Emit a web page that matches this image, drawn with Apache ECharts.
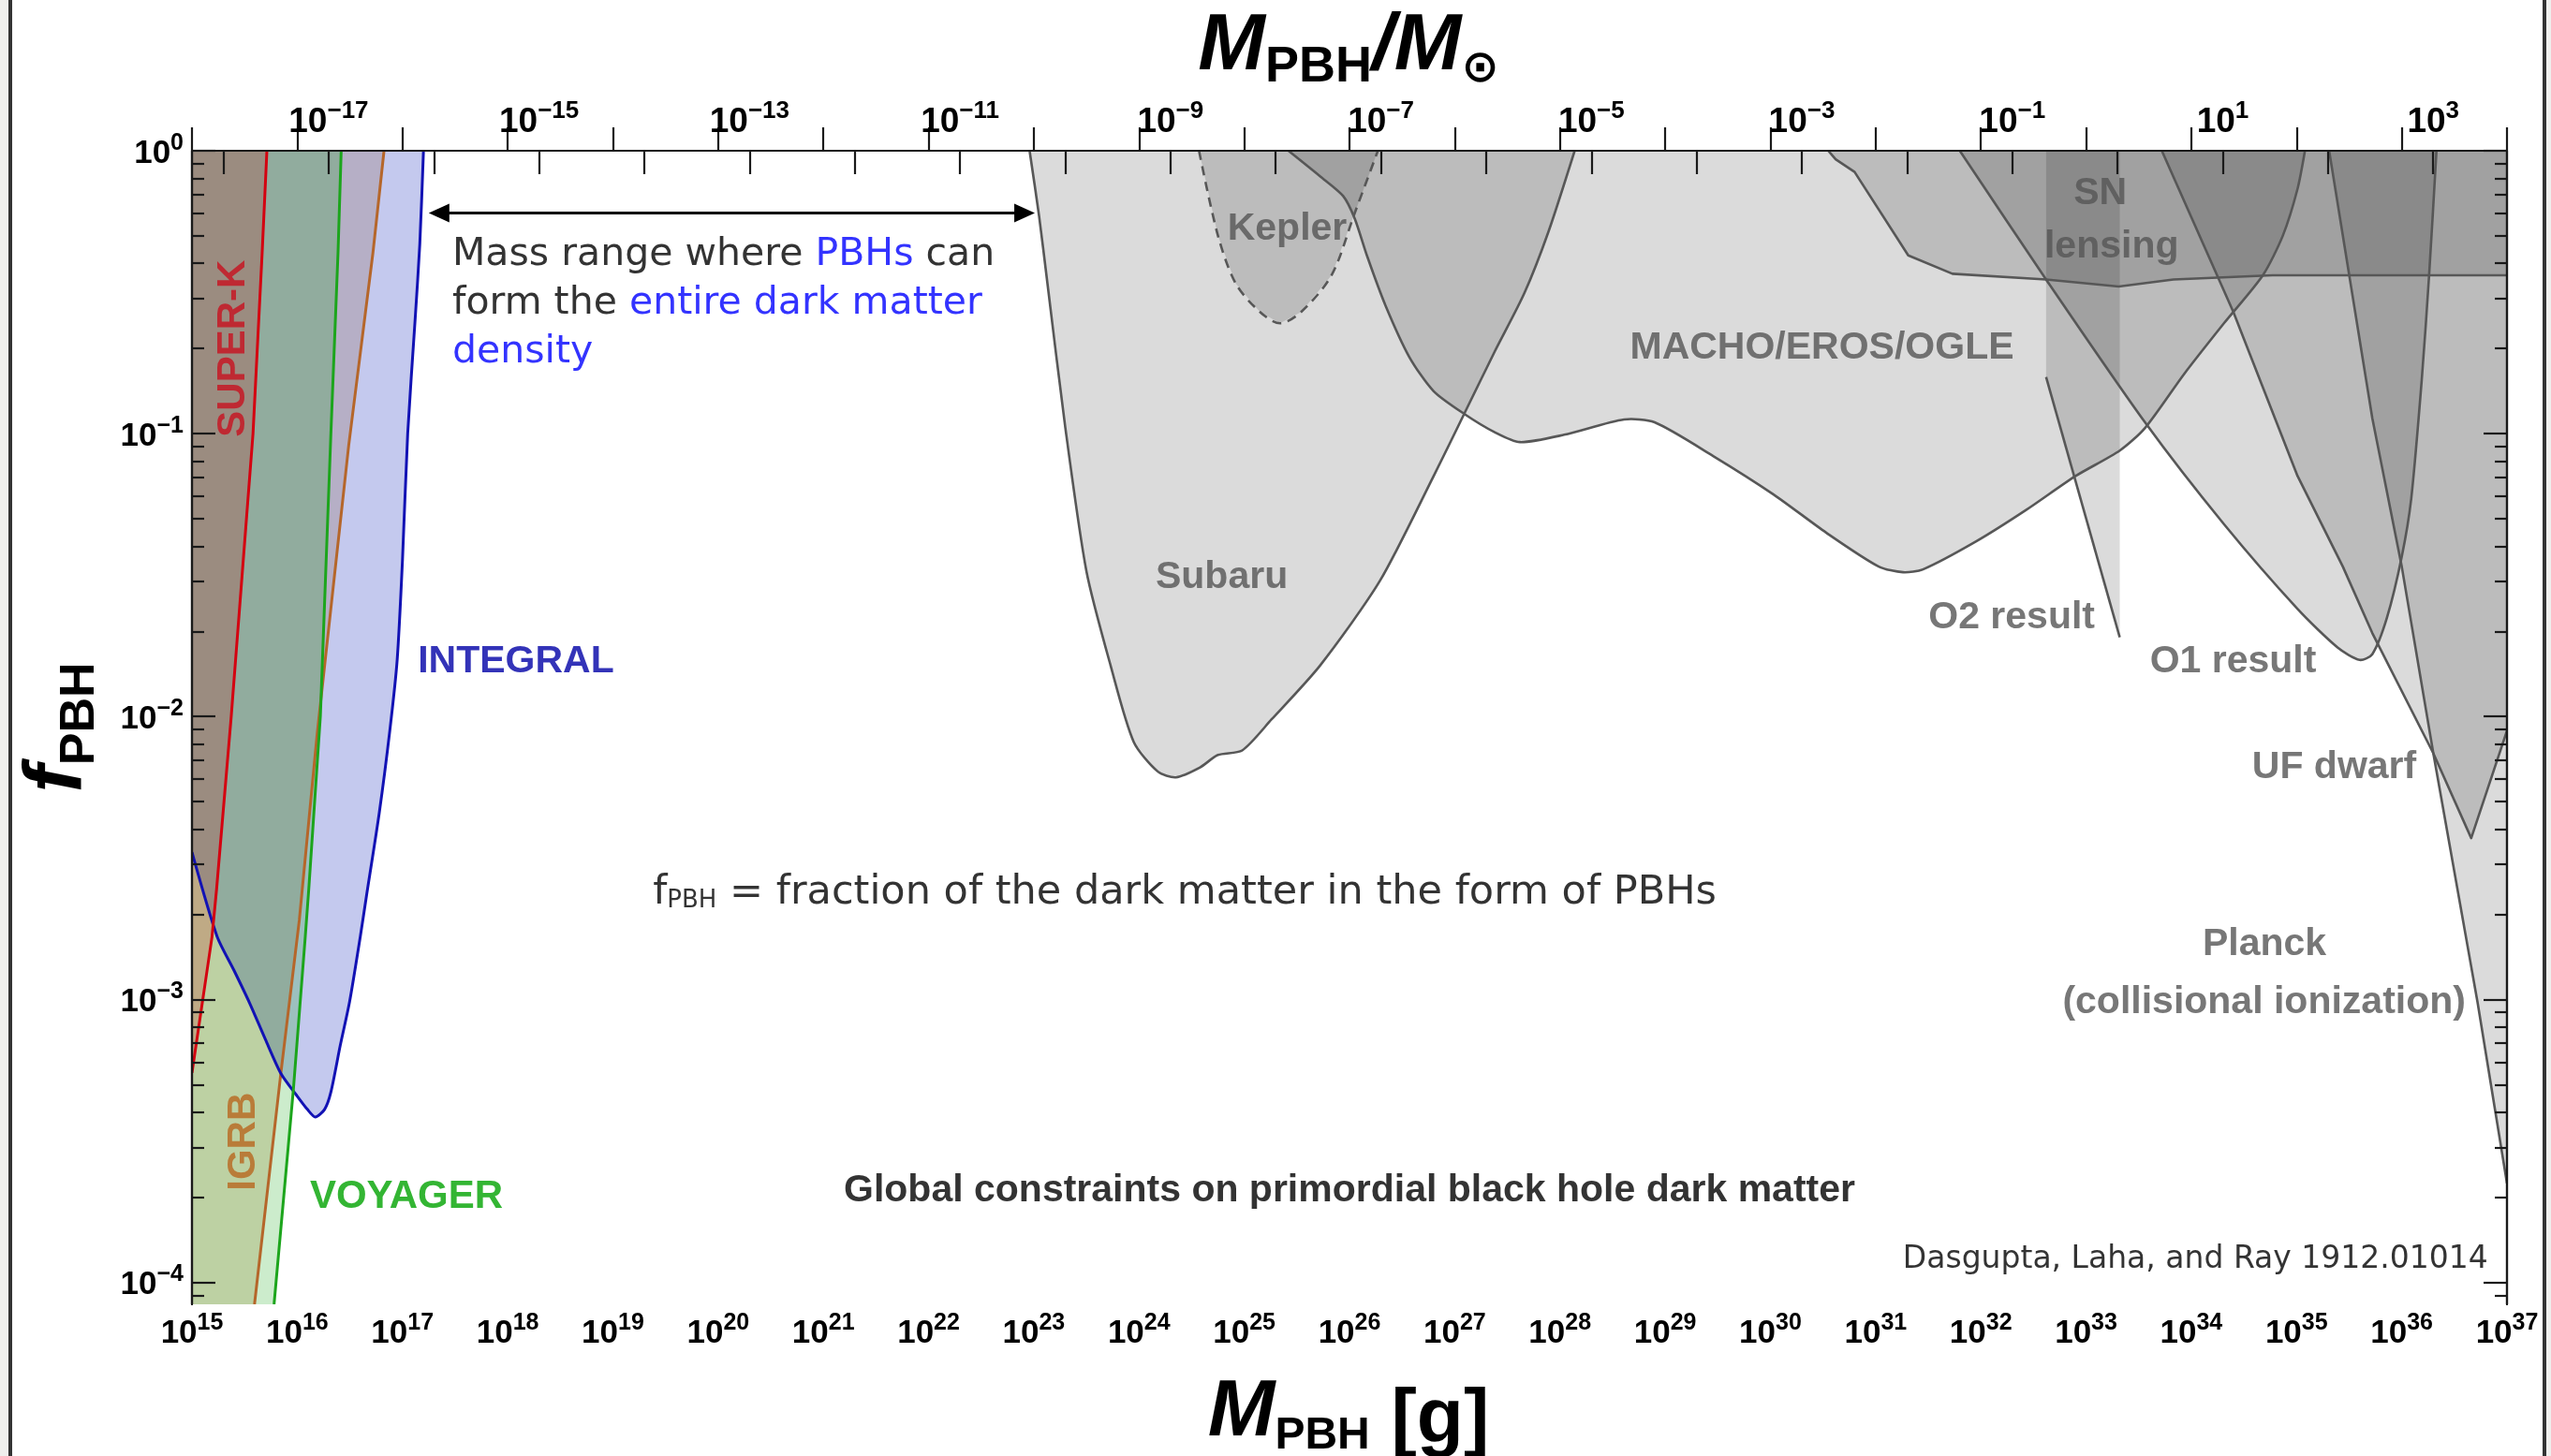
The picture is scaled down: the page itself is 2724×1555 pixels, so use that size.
<!DOCTYPE html>
<html>
<head>
<meta charset="utf-8">
<script src="https://cdn.jsdelivr.net/npm/echarts@6/dist/echarts.min.js"></script>
<style>
  html, body { margin: 0; padding: 0; background: #ffffff; }
  #chart { width: 2724px; height: 1555px; }
</style>
</head>
<body>
<div id="chart"></div>
<script>
// Axes work in decades: x = log10(M_PBH / g), y = log10(f_PBH).
const LOG_M_SUN = Math.log10(1.989e33);
const M_MIN = 15, M_MAX = 37;
const F_MIN = -4.078, F_MAX = 0;

// Tick labels
const massExponents = [15, 16, 17, 18, 19, 20, 21, 22, 23, 24, 25, 26, 27, 28, 29, 30, 31, 32, 33, 34, 35, 36, 37];
const solarTickExponents = [-18, -17, -16, -15, -14, -13, -12, -11, -10, -9, -8, -7, -6, -5, -4, -3, -2, -1, 0, 1, 2, 3];
const solarLabelExponents = [-17, -15, -13, -11, -9, -7, -5, -3, -1, 1, 3];
const fractionExponents = [-4, -3, -2, -1, 0];

// Constraint boundaries: [log10 M/g, log10 f_max]
const superK = [[15.0, -3.26], [15.19, -2.78], [15.234, -2.61], [15.373, -2.0], [15.58, -1.0], [15.667, -0.36], [15.712, 0]];
const igrb = [[15.594, -4.078], [15.845, -3.26], [16.02, -2.72], [16.19, -2.06], [16.49, -1.04], [16.72, -0.36], [16.825, 0]];
const voyager = [[15.78, -4.078], [15.964, -3.317], [16.077, -2.777], [16.11, -2.61], [16.22, -2.0], [16.32, -1.0], [16.388, -0.36], [16.418, 0]];
const integral = [[15.0, -2.48], [15.238, -2.777], [15.40, -2.898], [15.549, -3.014], [15.697, -3.141], [15.845, -3.262],
  [15.994, -3.339], [16.097, -3.389], [16.172, -3.416], [16.26, -3.389], [16.32, -3.328], [16.409, -3.163], [16.498, -3.008],
  [16.60, -2.777], [16.66, -2.63], [16.78, -2.34], [16.88, -2.05], [16.95, -1.80], [17.0, -1.45], [17.05, -1.0], [17.12, -0.6],
  [17.165, -0.33], [17.20, 0]];

const subaru = [[22.96, 0], [23.05, -0.23], [23.13, -0.47], [23.30, -0.98], [23.50, -1.486], [23.73, -1.82], [23.95, -2.09],
  [24.18, -2.195], [24.35, -2.215], [24.58, -2.18], [24.75, -2.136], [24.98, -2.12], [25.26, -2.01], [25.72, -1.82],
  [26.29, -1.52], [26.80, -1.15], [27.09, -0.93], [27.38, -0.71], [27.66, -0.505], [27.89, -0.287], [28.14, 0]];
const kepler = [[24.57, 0], [24.75, -0.30], [24.92, -0.47], [25.15, -0.57], [25.34, -0.61], [25.54, -0.57], [25.83, -0.44], [26.05, -0.22], [26.27, 0]];
const machoErosOgle = [[25.42, 0], [25.72, -0.09], [25.94, -0.16], [26.05, -0.24], [26.17, -0.375], [26.34, -0.545], [26.57, -0.73],
  [26.80, -0.85], [27.09, -0.93], [27.38, -0.995], [27.62, -1.03], [28.04, -1.004], [28.61, -0.95], [28.90, -0.96], [29.46, -1.08],
  [30.03, -1.215], [30.53, -1.35], [31.03, -1.47], [31.26, -1.49], [31.45, -1.48], [31.96, -1.38], [32.43, -1.27], [32.90, -1.15],
  [33.32, -1.06], [33.56, -0.98], [33.93, -0.79], [34.31, -0.61], [34.68, -0.44], [34.87, -0.30], [35.01, -0.134], [35.08, 0]];
const snLensing = [[30.55, 0], [30.62, -0.03], [30.80, -0.075], [31.31, -0.37], [31.73, -0.435], [32.62, -0.455], [33.31, -0.48],
  [33.83, -0.455], [34.77, -0.44], [37.0, -0.44]];
const ligoO2 = [[32.62, -0.80], [33.32, -1.72]];
const ligoO2Band = [32.62, 33.32];
const ligoO1 = [[31.80, 0], [32.62, -0.455], [33.56, -0.96], [34.31, -1.32], [35.01, -1.62], [35.39, -1.756], [35.60, -1.80],
  [35.72, -1.78], [35.86, -1.65], [36.00, -1.435], [36.09, -1.23], [36.19, -0.81], [36.26, -0.44], [36.33, 0]];
const ufDwarf = [[33.72, 0], [34.40, -0.57], [35.01, -1.15], [35.44, -1.47], [35.72, -1.705], [36.30, -2.13], [36.66, -2.43], [37.0, -2.05]];
const planck = [[35.31, 0], [35.72, -0.945], [36.0, -1.47], [36.30, -2.13], [36.72, -3.01], [37.0, -3.65]];

// Mass window where PBHs may make up all of the dark matter
const openWindow = [17.25, 23.01];
const openWindowLevel = -0.22;

// ---------- styling ----------
const GRAY_FILL = 'rgba(0,0,0,0.14)';
const GRAY_LINE = '#575757';
const BOLD = "'Liberation Sans', Arial, Helvetica, sans-serif";
const HAND = "'DejaVu Sans', sans-serif";

// Fill order matters for the tinted overlaps on the left.
const regions = [
  { boundary: igrb, closure: [[15, 0], [15, F_MIN]], fill: 'rgba(165,90,0,0.2)', stroke: '#b5662a', width: 3 },
  { boundary: integral, closure: [[15, 0]], fill: 'rgba(0,20,180,0.23)', stroke: '#1212b4', width: 3, smooth: 0.25 },
  { boundary: voyager, closure: [[15, 0], [15, F_MIN]], fill: 'rgba(0,160,0,0.2)', stroke: '#1ca51c', width: 3 },
  { boundary: superK, closure: [[15.712, 0], [15, 0]], fill: 'rgba(200,0,0,0.185)', stroke: '#d40010', width: 3 },
  { boundary: subaru, closure: [], fill: GRAY_FILL, stroke: GRAY_LINE, width: 2.6, smooth: 0.25 },
  { boundary: kepler, closure: [], fill: GRAY_FILL, stroke: GRAY_LINE, width: 2.6, dash: [10, 7], smooth: 0.3 },
  { boundary: machoErosOgle, closure: [], fill: GRAY_FILL, stroke: GRAY_LINE, width: 2.6, smooth: 0.25 },
  { boundary: snLensing, closure: [[37, 0]], fill: GRAY_FILL, stroke: GRAY_LINE, width: 2.6 },
  { boundary: ligoO2, closure: [[ligoO2Band[1], 0], [ligoO2Band[0], 0]], fill: GRAY_FILL, stroke: GRAY_LINE, width: 2.6 },
  { boundary: ligoO1, closure: [], fill: GRAY_FILL, stroke: GRAY_LINE, width: 2.6, smooth: 0.25 },
  { boundary: ufDwarf, closure: [[37, 0]], fill: GRAY_FILL, stroke: GRAY_LINE, width: 2.6 },
  { boundary: planck, closure: [[37, 0]], fill: GRAY_FILL, stroke: GRAY_LINE, width: 2.6 }
];

function powerLabel(n) {
  const e = n < 0 ? '\u2212' + (-n) : String(n);
  return '{b|10}{s|' + e + '}';
}
function tickRich(size) {
  return {
    b: { fontFamily: BOLD, fontWeight: 'bold', fontSize: size, lineHeight: size + 6, verticalAlign: 'bottom', color: '#000' },
    s: { fontFamily: BOLD, fontWeight: 'bold', fontSize: Math.round(size * 0.7), lineHeight: Math.round(size * 0.7), verticalAlign: 'top', color: '#000' }
  };
}

const minorFraction = [];
for (let n = -5; n < 0; n++) {
  for (let k = 2; k <= 9; k++) {
    const v = n + Math.log10(k);
    if (v >= F_MIN && v <= F_MAX) minorFraction.push(v);
  }
}
const solarTicks = solarTickExponents.map(n => n + LOG_M_SUN);
const solarLabelTicks = solarLabelExponents.map(n => n + LOG_M_SUN);

const AXIS_LINE = { show: true, lineStyle: { color: '#1a1a1a', width: 2.2 } };
const TICK_STYLE = { color: '#1a1a1a', width: 2.2 };

const yBase = { type: 'value', min: F_MIN, max: F_MAX, splitLine: { show: false }, axisLine: AXIS_LINE, z: 10 };
const xBase = { type: 'value', min: M_MIN, max: M_MAX, splitLine: { show: false }, axisLine: AXIS_LINE, z: 10 };

const grayTag = { color: '#555555', fontFamily: BOLD, fontWeight: 'bold', fontSize: 41 };
const annotations = [
  { at: [25.408, -0.2765], text: 'Kepler', style: grayTag },
  { at: [24.786, -1.507], text: 'Subaru', style: grayTag },
  { at: [30.49, -0.697], text: 'MACHO/EROS/OGLE', style: grayTag },
  { at: [33.135, -0.150], text: 'SN', style: grayTag },
  { at: [33.242, -0.340], text: 'lensing', style: grayTag },
  { at: [32.293, -1.651], text: 'O2 result', style: grayTag },
  { at: [34.397, -1.806], text: 'O1 result', style: grayTag },
  { at: [35.358, -2.179], text: 'UF dwarf', style: grayTag },
  { at: [34.695, -2.806], text: 'Planck', style: grayTag },
  { at: [34.692, -3.012], text: '(collisional ionization)', style: grayTag },
  { at: [15.392, -0.699], text: 'SUPER-K', rotate: 90, style: { color: '#c8101e', fontFamily: BOLD, fontWeight: 'bold', fontSize: 42 } },
  { at: [15.496, -3.503], text: 'IGRB', rotate: 90, style: { color: '#b8661e', fontFamily: BOLD, fontWeight: 'bold', fontSize: 42 } },
  { at: [17.038, -3.70], text: 'VOYAGER', style: { color: '#00a300', fontFamily: BOLD, fontWeight: 'bold', fontSize: 42 } },
  { at: [18.079, -1.805], text: 'INTEGRAL', style: { color: '#0000a6', fontFamily: BOLD, fontWeight: 'bold', fontSize: 41 } },
  { at: [26.0, -3.677], text: 'Global constraints on primordial black hole dark matter', style: { color: '#000000', fontFamily: BOLD, fontWeight: 'bold', fontSize: 41 } },
  { at: [36.82, -3.922], text: 'Dasgupta, Laha, and Ray 1912.01014', position: 'left', style: { color: '#000', fontFamily: HAND, fontSize: 33 } },
  { at: [24.434, -2.617], text: '{t|f}{sub|PBH}{t| = fraction of the dark matter in the form of PBHs}', style: {
      rich: { t: { color: '#000', fontFamily: HAND, fontSize: 43, lineHeight: 48, verticalAlign: 'bottom' },
              sub: { color: '#000', fontFamily: HAND, fontSize: 26, lineHeight: 32, verticalAlign: 'bottom' } } } },
  { at: [17.474, -0.541], position: 'right', text: '{k|Mass range where }{b|PBHs}{k| can}\n{k|form the }{b|entire dark matter}\n{b|density}', style: {
      rich: { k: { color: '#000', fontFamily: HAND, fontSize: 41, lineHeight: 52 },
              b: { color: '#0000ff', fontFamily: HAND, fontSize: 41, lineHeight: 52 } } } }
];

const option = {
  animation: false,
  backgroundColor: '#ffffff',
  grid: { left: 205, right: 47, top: 161, bottom: 162, containLabel: false },
  xAxis: [
    Object.assign({}, xBase, {
      position: 'bottom', interval: 1,
      axisTick: { show: true, inside: true, length: 25, lineStyle: TICK_STYLE },
      axisLabel: { show: true, interval: 0, margin: 8, showMinLabel: true, showMaxLabel: true,
        formatter: v => powerLabel(Math.round(v)), rich: tickRich(35) }
    }),
    Object.assign({}, xBase, {
      position: 'top',
      axisTick: { show: true, inside: true, length: 25, lineStyle: TICK_STYLE, customValues: solarTicks },
      axisLabel: { show: true, margin: 12, customValues: solarLabelTicks,
        formatter: v => powerLabel(Math.round(v - LOG_M_SUN)), rich: tickRich(37) }
    })
  ],
  yAxis: [
    Object.assign({}, yBase, {
      position: 'left',
      axisTick: { show: true, inside: true, length: 25, lineStyle: TICK_STYLE, customValues: fractionExponents },
      axisLabel: { show: true, margin: 9, customValues: fractionExponents, formatter: v => powerLabel(Math.round(v)), rich: tickRich(35) }
    }),
    Object.assign({}, yBase, {
      position: 'left',
      axisTick: { show: true, inside: true, length: 13, lineStyle: TICK_STYLE, customValues: minorFraction },
      axisLabel: { show: false }
    }),
    Object.assign({}, yBase, {
      position: 'right',
      axisTick: { show: true, inside: true, length: 25, lineStyle: TICK_STYLE, customValues: fractionExponents },
      axisLabel: { show: false }
    }),
    Object.assign({}, yBase, {
      position: 'right',
      axisTick: { show: true, inside: true, length: 13, lineStyle: TICK_STYLE, customValues: minorFraction },
      axisLabel: { show: false }
    })
  ],
  series: [
    {
      type: 'custom', name: 'excluded regions', coordinateSystem: 'cartesian2d', xAxisIndex: 0, yAxisIndex: 0,
      silent: true, clip: true, z: 2,
      data: regions.map(r => r.boundary[0]),
      renderItem: (params, api) => {
        const r = regions[params.dataIndex];
        const pts = r.boundary.concat(r.closure).map(p => api.coord(p));
        return { type: 'polygon', shape: { points: pts }, style: { fill: r.fill, stroke: 'none' } };
      }
    },
    {
      type: 'custom', name: 'bounds', coordinateSystem: 'cartesian2d', xAxisIndex: 0, yAxisIndex: 0,
      silent: true, clip: true, z: 3,
      data: regions.map(r => r.boundary[0]),
      renderItem: (params, api) => {
        const r = regions[params.dataIndex];
        const pts = r.boundary.map(p => api.coord(p));
        return { type: 'polyline', shape: { points: pts, smooth: r.smooth || 0 },
          style: { fill: 'none', stroke: r.stroke, lineWidth: r.width, lineDash: r.dash || null, lineJoin: 'round' } };
      }
    },
    {
      type: 'custom', name: 'window arrow', coordinateSystem: 'cartesian2d', xAxisIndex: 0, yAxisIndex: 0,
      silent: true, z: 4,
      data: [[openWindow[0], openWindowLevel]],
      renderItem: (params, api) => {
        const a = api.coord([openWindow[0], openWindowLevel]);
        const b = api.coord([openWindow[1], openWindowLevel]);
        const L = 22, H = 10;
        return { type: 'group', children: [
          { type: 'line', shape: { x1: a[0] + L - 2, y1: a[1], x2: b[0] - L + 2, y2: b[1] }, style: { stroke: '#000', lineWidth: 3 } },
          { type: 'polygon', shape: { points: [[a[0], a[1]], [a[0] + L, a[1] - H], [a[0] + L, a[1] + H]] }, style: { fill: '#000' } },
          { type: 'polygon', shape: { points: [[b[0], b[1]], [b[0] - L, b[1] - H], [b[0] - L, b[1] + H]] }, style: { fill: '#000' } }
        ] };
      }
    },
    {
      type: 'scatter', name: 'annotations', coordinateSystem: 'cartesian2d', xAxisIndex: 0, yAxisIndex: 0,
      silent: true, clip: false, z: 6, symbolSize: 0,
      data: annotations.map(a => ({
        value: a.at,
        label: Object.assign({
          show: true, position: a.position || 'inside', distance: 0, rotate: a.rotate || 0,
          formatter: a.text, align: a.position === 'left' ? 'right' : (a.position === 'right' ? 'left' : 'center'),
          lineHeight: 52
        }, a.style)
      }))
    }
  ],
  graphic: [
    // page frame
    { type: 'rect', left: 0, top: 0, shape: { width: 9, height: 1555 }, style: { fill: '#efefed' }, z: 100 },
    { type: 'rect', left: 9, top: 0, shape: { width: 4, height: 1555 }, style: { fill: '#333333' }, z: 100 },
    { type: 'rect', left: 2715, top: 0, shape: { width: 4, height: 1555 }, style: { fill: '#333333' }, z: 100 },
    { type: 'rect', left: 2719, top: 0, shape: { width: 5, height: 1555 }, style: { fill: '#efefed' }, z: 100 },
    // axis titles
    { type: 'text', x: 1440, y: 54, z: 100, style: {
        text: '{m|M}{s|PBH}{m|/M}{o|\u2299}', align: 'center', verticalAlign: 'middle',
        rich: {
          m: { fontFamily: BOLD, fontWeight: 'bold', fontStyle: 'italic', fontSize: 86, lineHeight: 90, verticalAlign: 'bottom', padding: [0, 0, 6, 0], fill: '#000' },
          s: { fontFamily: BOLD, fontWeight: 'bold', fontSize: 54, lineHeight: 40, verticalAlign: 'bottom', fill: '#000' },
          o: { fontFamily: "'DejaVu Sans', sans-serif", fontWeight: 'bold', fontSize: 48, lineHeight: 40, verticalAlign: 'bottom', fill: '#000' }
        } } },
    { type: 'text', x: 1440, y: 1513, z: 100, style: {
        text: '{m|M}{s|PBH}{g| [g]}', align: 'center', verticalAlign: 'middle',
        rich: {
          m: { fontFamily: BOLD, fontWeight: 'bold', fontStyle: 'italic', fontSize: 86, lineHeight: 90, verticalAlign: 'bottom', padding: [0, 0, 6, 0], fill: '#000' },
          s: { fontFamily: BOLD, fontWeight: 'bold', fontSize: 48, lineHeight: 36, verticalAlign: 'bottom', fill: '#000' },
          g: { fontFamily: BOLD, fontWeight: 'bold', fontSize: 82, lineHeight: 90, verticalAlign: 'bottom', fill: '#000' }
        } } },
    { type: 'text', x: 67, y: 777, rotation: Math.PI / 2, z: 100, style: {
        text: '{m|f}{s|PBH}', align: 'center', verticalAlign: 'middle',
        rich: {
          m: { fontFamily: BOLD, fontWeight: 'bold', fontStyle: 'italic', fontSize: 88, lineHeight: 90, verticalAlign: 'bottom', padding: [0, 0, 6, 0], fill: '#000' },
          s: { fontFamily: BOLD, fontWeight: 'bold', fontSize: 52, lineHeight: 36, verticalAlign: 'bottom', fill: '#000' }
        } } }
  ]
};

const chart = echarts.init(document.getElementById('chart'), null, { renderer: 'canvas' });
chart.setOption(option);
</script>
</body>
</html>
